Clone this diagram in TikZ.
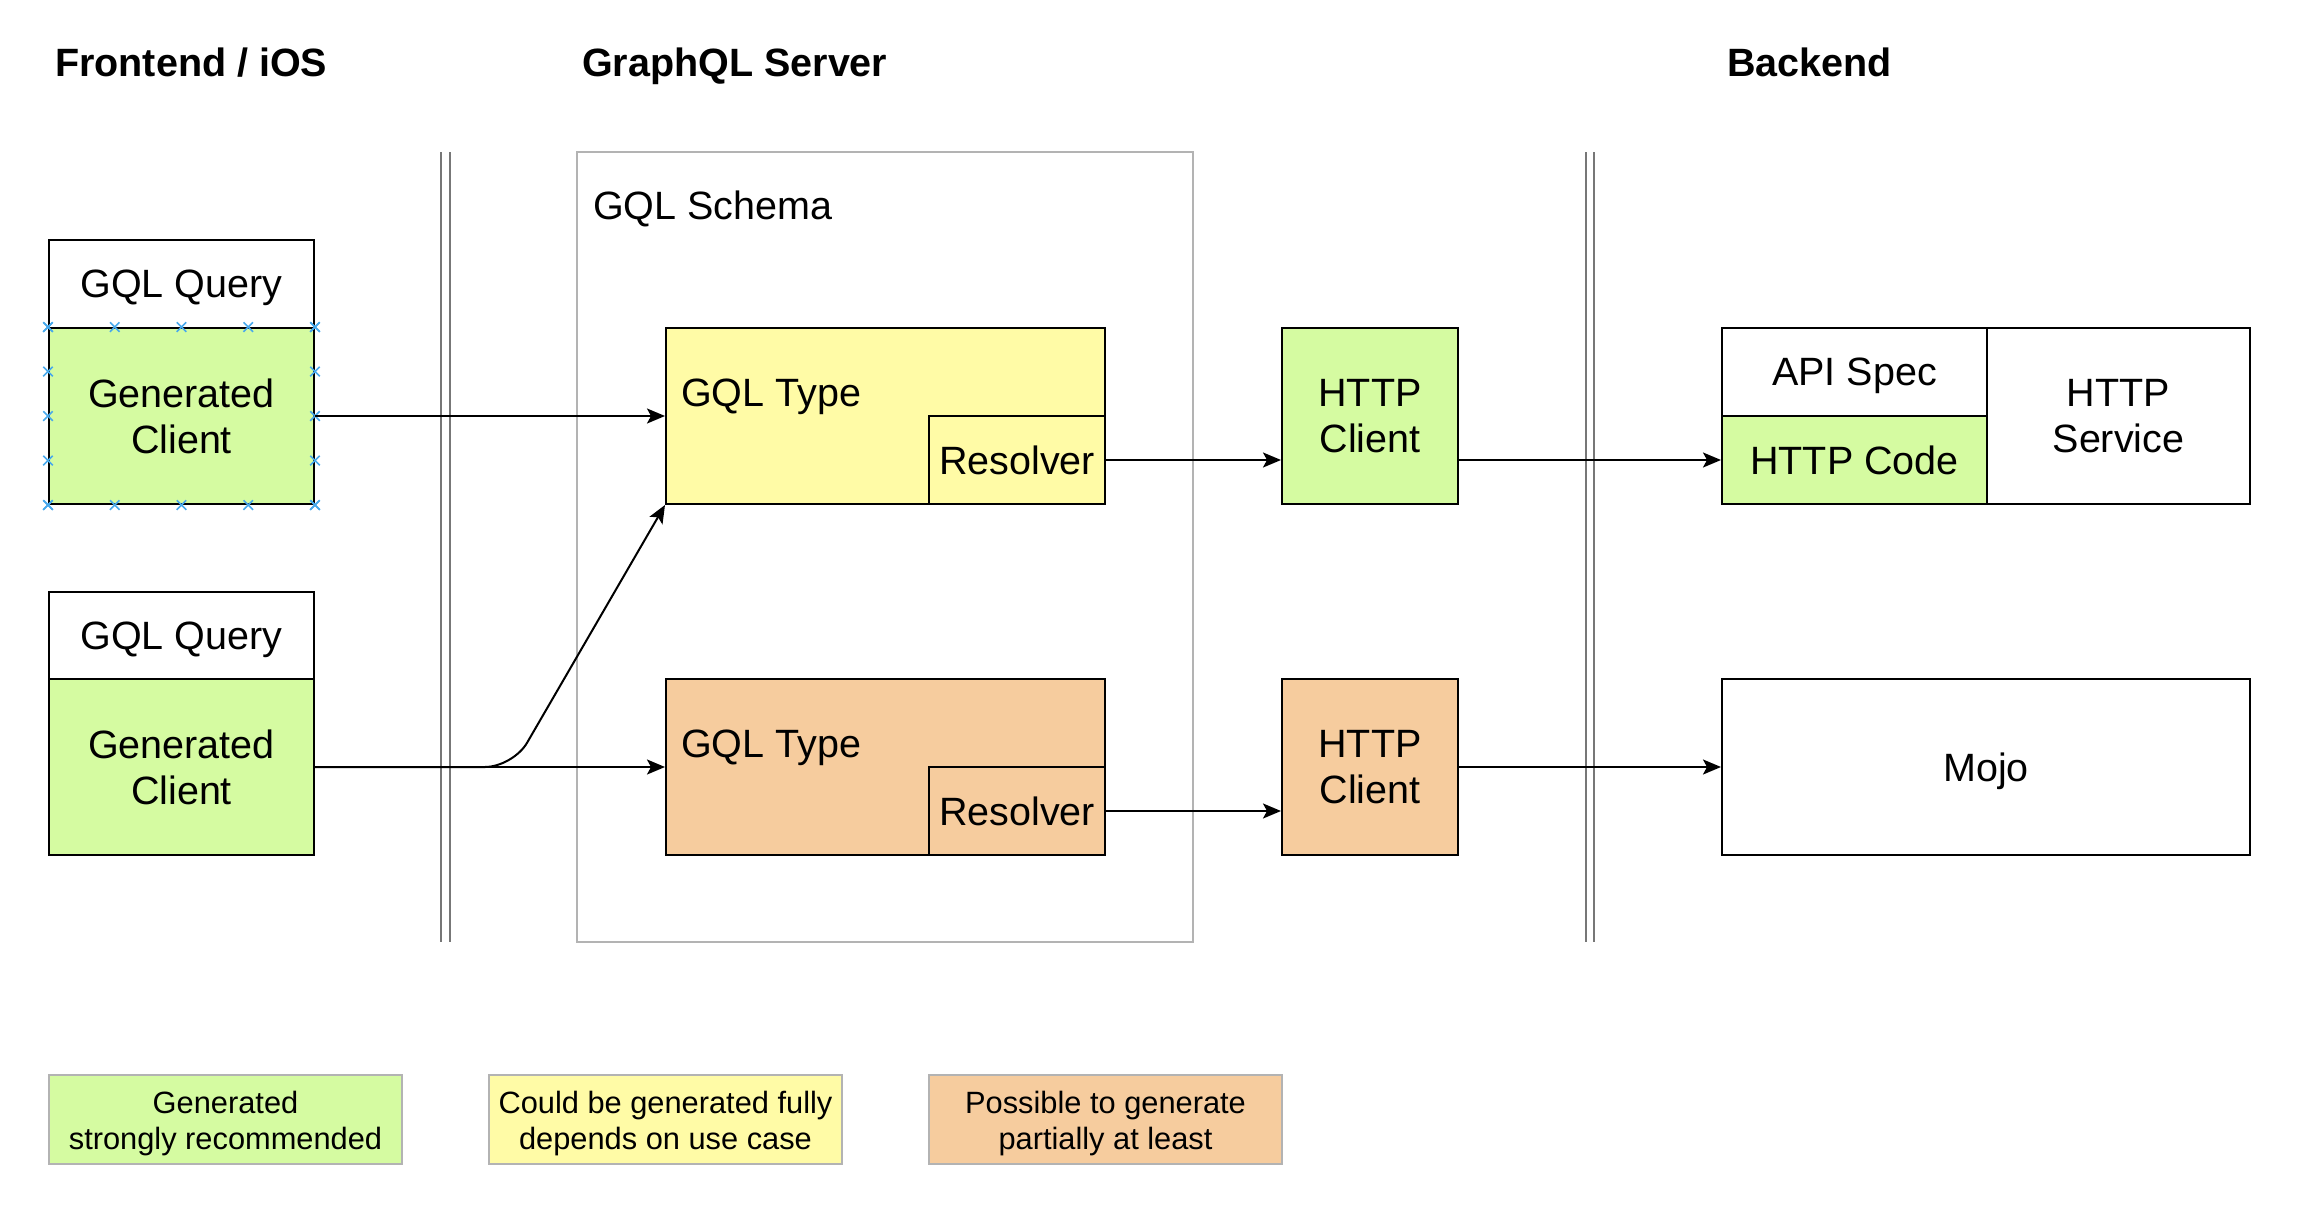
\documentclass[tikz,border=0pt]{standalone}
\usepackage{fontspec}
\setmainfont{Liberation Sans}
\usepackage{tikz}
\usetikzlibrary{calc,shapes,arrows.meta}

\definecolor{GENGREEN}{HTML}{D5FBA1}
\definecolor{GENYELLOW}{HTML}{FFFBA6}
\definecolor{GENORANGE}{HTML}{F6CC9E}
\definecolor{SOFTGREY}{HTML}{B3B3B3}
\definecolor{SEPGREY}{HTML}{777777}
\definecolor{HANDLEBLUE}{HTML}{48A9EC}

\begin{document}
\begin{tikzpicture}[x=1pt,y=-1pt,
    font=\fontsize{39.5}{46}\selectfont,
    box/.style={draw, line width=2pt, inner sep=0pt, align=center},
    oneline/.style={text depth=0pt},
    legend/.style={draw=SOFTGREY, line width=2pt, inner sep=0pt, align=center,
      minimum width=353pt, minimum height=89pt, font=\fontsize{30.8}{35.5}\selectfont},
    title/.style={anchor=base west, inner sep=0pt, font=\fontsize{39.5}{46}\selectfont\bfseries},
    arr/.style={line width=2pt, -{Stealth[length=18pt,width=15pt,inset=4pt]}},
    sepline/.style={draw=SEPGREY, line width=2.5pt},
    handle/.style={cross out, draw=HANDLEBLUE, line width=1.5pt, minimum size=8pt, inner sep=0pt}]
  \useasboundingbox (0,0) rectangle (2316,1210);

  %% Column titles
  \node[title] (FRONT) at (55,76.5) {Frontend / iOS};
  \node[title] (GQLSRV) at (582,76.5) {GraphQL Server};
  \node[title] (BACK) at (1727,76.5) {Backend};

  %% Separators between the tiers
  \foreach \x in {441,450,1586,1594}
  {
    \draw[sepline] (\x,152) -- (\x,942);
  }

  %% Schema container
  \node[draw=SOFTGREY, line width=2pt, minimum width=616pt, minimum height=790pt] (SCHEMA) at (885,547) {};
  \node[anchor=base west, inner sep=0pt] (SCHEMATXT) at (593,219.5) {GQL Schema};

  %% Frontend: query + generated client
  \node[box, oneline, minimum width=265pt, minimum height=88pt] (QRYA) at (181.5,284) {GQL Query};
  \node[box, fill=GENGREEN, minimum width=265pt, minimum height=176pt] (CLIA) at (181.5,416) {Generated\\Client};
  \node[box, oneline, minimum width=265pt, minimum height=87pt] (QRYB) at (181.5,635.5) {GQL Query};
  \node[box, fill=GENGREEN, minimum width=265pt, minimum height=176pt] (CLIB) at (181.5,767) {Generated\\Client};

  %% selection handles on the first client
  \foreach \t in {0,0.25,0.5,0.75,1}
  {
    \node[handle] at ($(CLIA.north west)!\t!(CLIA.north east)$) {};
    \node[handle] at ($(CLIA.south west)!\t!(CLIA.south east)$) {};
    \node[handle] at ($(CLIA.north west)!\t!(CLIA.south west)$) {};
    \node[handle] at ($(CLIA.north east)!\t!(CLIA.south east)$) {};
  }

  %% GraphQL types with resolvers
  \node[box, fill=GENYELLOW, minimum width=439pt, minimum height=176pt] (TYPEA) at (885.5,416) {};
  \node[anchor=base west, inner sep=0pt] (TYPEATXT) at (681,406) {GQL Type};
  \node[box, fill=GENYELLOW, minimum width=176pt, minimum height=88pt] (RESA) at (1017,460) {Resolver};
  \node[box, fill=GENORANGE, minimum width=439pt, minimum height=176pt] (TYPEB) at (885.5,767) {};
  \node[anchor=base west, inner sep=0pt] (TYPEBTXT) at (681,757) {GQL Type};
  \node[box, fill=GENORANGE, minimum width=176pt, minimum height=88pt] (RESB) at (1017,811) {Resolver};

  %% HTTP clients
  \node[box, fill=GENGREEN, minimum width=176pt, minimum height=176pt] (HTCA) at (1370,416) {HTTP\\Client};
  \node[box, fill=GENORANGE, minimum width=176pt, minimum height=176pt] (HTCB) at (1370,767) {HTTP\\Client};

  %% Backend
  \node[box, oneline, minimum width=265pt, minimum height=88pt] (APISPEC) at (1854.5,372) {API Spec};
  \node[box, fill=GENGREEN, minimum width=265pt, minimum height=88pt] (HCODE) at (1854.5,460) {HTTP Code};
  \node[box, minimum width=263pt, minimum height=176pt] (HSERV) at (2118.5,416) {HTTP\\Service};
  \node[box, oneline, minimum width=528pt, minimum height=176pt] (MOJO) at (1986,767) {Mojo};

  %% Connections
  \draw[arr] (CLIA) -- (TYPEA);
  \draw[arr] (CLIB) -- (TYPEB);
  \coordinate (BEND) at (513,767);
  \draw[arr, rounded corners=28pt] (CLIB.east) -- (BEND) -- (TYPEA.south west);
  \draw[arr] (RESA.east) -- (HTCA.west |- RESA);
  \draw[arr] (HTCA.east |- HCODE) -- (HCODE.west);
  \draw[arr] (RESB.east) -- (HTCB.west |- RESB);
  \draw[arr] (HTCB) -- (MOJO);

  %% Legend
  \node[legend, fill=GENGREEN] (LEGA) at (225.5,1119.5) {\rule{0pt}{1em}Generated\\strongly recommended};
  \node[legend, fill=GENYELLOW] (LEGB) at (665.5,1119.5) {\rule{0pt}{1em}Could be generated fully\\depends on use case};
  \node[legend, fill=GENORANGE] (LEGC) at (1105.5,1119.5) {\rule{0pt}{1em}Possible to generate\\partially at least};
\end{tikzpicture}
\end{document}
